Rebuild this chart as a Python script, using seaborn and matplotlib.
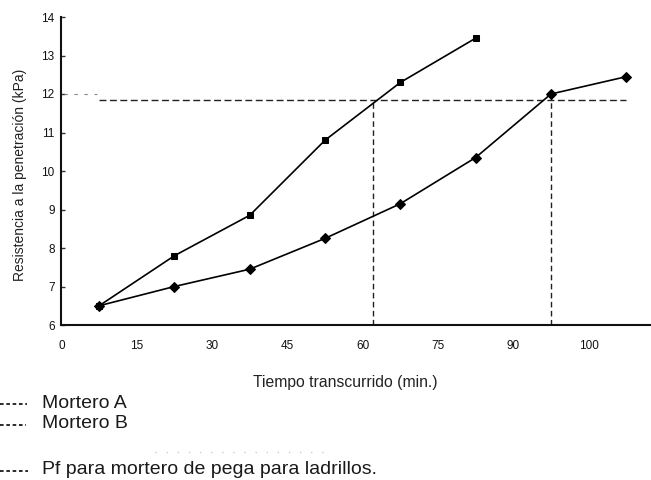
import matplotlib
matplotlib.use("Agg")
import matplotlib.pyplot as plt
from matplotlib.lines import Line2D
import pandas as pd
import seaborn as sns

# Penetration resistance readings (kPa) over elapsed time (min)
tiempo_a = [7.5, 22.5, 37.5, 52.5, 67.5, 82.5]
resist_a = [6.5, 7.8, 8.85, 10.8, 12.3, 13.45]

tiempo_b = [7.5, 22.5, 37.5, 52.5, 67.5, 82.5, 97.5, 112.5]
resist_b = [6.5, 7.0, 7.45, 8.25, 9.15, 10.35, 12.0, 12.45]

# Setting-point criterion and the times where each mortar reaches it
pf_nivel = 11.85
pf_tiempo_a = 62.0
pf_tiempo_b = 97.5

x_ticks = [0, 15, 30, 45, 60, 75, 90, 105]
x_tick_labels = ["0", "15", "30", "45", "60", "75", "90", "100"]
y_ticks = [6, 7, 8, 9, 10, 11, 12, 13, 14]

leyenda = ["Mortero A", "Mortero B", "Pf para mortero de pega para ladrillos."]

df_a = pd.DataFrame({"tiempo": tiempo_a, "resistencia": resist_a})
df_b = pd.DataFrame({"tiempo": tiempo_b, "resistencia": resist_b})

sns.set_theme(style="white")
plt.rcParams["font.family"] = ["Liberation Sans", "DejaVu Sans"]

W, H = 651, 480
fig = plt.figure(figsize=(6.51, 4.80), dpi=100)
ax = fig.add_axes([61.5 / W, 1 - 325 / H, 1 - 61.5 / W, (325 - 17) / H])

# Pf reference lines
ax.plot([7.5, 112.5], [pf_nivel, pf_nivel], color="#222222", lw=1.0,
        linestyle=(0, (5, 2.5)), zorder=2)
ax.plot([pf_tiempo_a, pf_tiempo_a], [6, pf_nivel], color="#222222", lw=1.0,
        linestyle=(0, (4, 2.5)), zorder=2)
ax.plot([pf_tiempo_b, pf_tiempo_b], [6, 12.0], color="#222222", lw=1.0,
        linestyle=(0, (4, 2.5)), zorder=2)
ax.plot([0.5, 7.0], [12.0, 12.0], color="#888888", lw=0.8,
        linestyle=(0, (3, 6)), zorder=1)

sns.lineplot(data=df_a, x="tiempo", y="resistencia", ax=ax, color="black",
             marker="s", markersize=5, markeredgecolor="black", linewidth=1.2,
             zorder=3)
sns.lineplot(data=df_b, x="tiempo", y="resistencia", ax=ax, color="black",
             marker="D", markersize=5, markeredgecolor="black", linewidth=1.2,
             zorder=3)

ax.set_xlim(0, 589.5 / 5.02)
ax.set_ylim(6, 14)
ax.set_xticks(x_ticks)
ax.set_xticklabels(x_tick_labels)
ax.set_yticks(y_ticks)
ax.tick_params(axis="x", length=0, pad=11, labelsize=8.5, labelcolor="#111111")
ax.tick_params(axis="y", direction="in", length=3, width=1, color="#333333",
               pad=5, labelsize=8.5, labelcolor="#111111", left=True)

for side in ("top", "right"):
    ax.spines[side].set_visible(False)
for side in ("left", "bottom"):
    ax.spines[side].set_color("#111111")
    ax.spines[side].set_linewidth(1.5)

ax.set_xlabel("")
ax.set_ylabel("")
ax.patch.set_alpha(0)

fig.text(345 / W, 1 - 382 / H, "Tiempo transcurrido (min.)", ha="center",
         va="center", fontsize=11.3, color="#222222")
fig.text(20 / W, 1 - 175 / H, "Resistencia a la penetración (kPa)",
         rotation=90, ha="center", va="center", fontsize=10, color="#222222")

# Key below the chart: short dashed sample followed by its label
for texto, y_px, x_fin in zip(leyenda, [403, 424, 470], [27, 26, 28]):
    fig.add_artist(Line2D([0, x_fin / W], [1 - (y_px + 1) / H] * 2,
                          color="#1a1a1a", lw=1.3, linestyle=(0, (2, 1.5))))
    fig.text(42 / W, 1 - y_px / H, texto, ha="left", va="center",
             fontsize=14, color="#1a1a1a")
fig.add_artist(Line2D([155 / W, 330 / W], [1 - 452 / H] * 2,
                      color="#cccccc", lw=1, linestyle=(0, (1, 7))))

fig.savefig("out.png", dpi=100)
